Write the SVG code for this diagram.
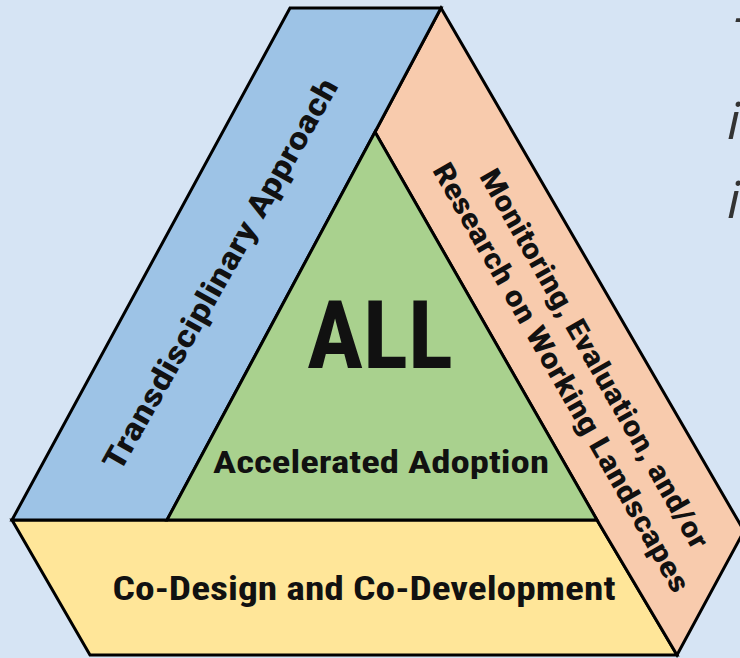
<svg xmlns="http://www.w3.org/2000/svg" width="740" height="658" viewBox="0 0 740 658">
<style>
.band{stroke:#000;stroke-width:3;stroke-linejoin:miter}
.lbl{font-family:"Liberation Sans Narrow","Roboto Condensed","Arial Narrow","Liberation Sans",sans-serif;font-weight:bold;fill:#111;text-anchor:middle}
.side{font-family:"Open Sans","Noto Sans",sans-serif;font-style:italic;fill:#333;font-size:52px}
</style>
<rect width="740" height="658" fill="#d6e4f4"/>
<g id="side-text">
<text class="side" x="734" y="34">–</text>
<text class="side" x="727" y="139">in</text>
<text class="side" x="727" y="218">in</text>
</g>
<g id="yellow-band">
<polygon class="band" fill="#ffe699" points="12,520 597,520 677,655 90,655"/>
<text class="lbl" x="364" y="600" font-size="33" textLength="503" lengthAdjust="spacingAndGlyphs">Co-Design and Co-Development</text>
</g>
<g id="orange-band">
<polygon class="band" fill="#f8cbad" points="441,8 744,531 677,655 597,520 375,132"/>
<g transform="translate(578,368) rotate(60.3)">
<text class="lbl" x="0" y="-9" font-size="29" textLength="432" lengthAdjust="spacingAndGlyphs">Monitoring, Evaluation, and/or</text>
<text class="lbl" x="0" y="29" font-size="29" textLength="489" lengthAdjust="spacingAndGlyphs">Research on Working Landscapes</text>
</g>
</g>
<g id="blue-band">
<polygon class="band" fill="#9dc3e6" points="290,8 441,8 375,132 167,520 12,520"/>
<text class="lbl" transform="translate(220,274) rotate(-60.5)" x="0" y="11" font-size="31" textLength="445" lengthAdjust="spacingAndGlyphs">Transdisciplinary Approach</text>
</g>
<g id="green-core">
<polygon class="band" fill="#a9d18e" points="375,132 167,520 597,520"/>
<text class="lbl" x="380" y="368" font-size="94">ALL</text>
<text class="lbl" x="381" y="473" font-size="31" textLength="336" lengthAdjust="spacingAndGlyphs">Accelerated Adoption</text>
</g>
</svg>
